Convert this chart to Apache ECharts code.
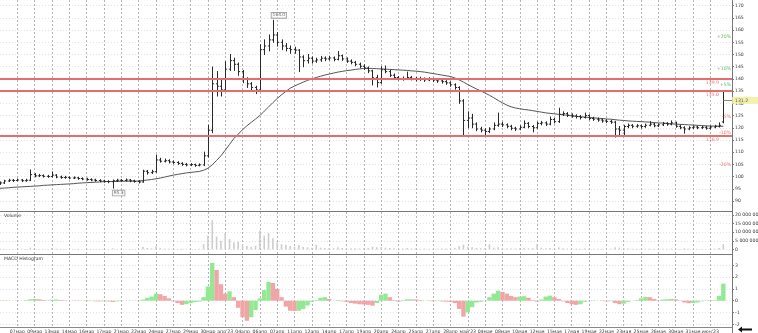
<!DOCTYPE html>
<html><head><meta charset="utf-8">
<script src="https://cdn.jsdelivr.net/npm/echarts@6/dist/echarts.min.js"></script>
<style>html,body{margin:0;padding:0;background:#fff}#c{width:758px;height:333px}</style>
</head><body><div id="c"></div>
<script>
// ---- data ----
const dateLabels = ['07мар','09мар','13мар','14мар','16мар','17мар','21мар','22мар','24мар','27мар','29мар','30мар',"апр'23",
 '04апр','06апр','07апр','11апр','12апр','14апр','17апр','19апр','20апр','24апр','25апр','27апр','28апр',"май'23",
 '04мая','08мая','10мая','12мая','15мая','17мая','19мая','22мая','23мая','25мая','26мая','30мая','31мая',"июн'23"];

// [open, high, low, close]
const bars = [
[97.0,97.8,96.8,97.4],[97.4,98.5,97.2,98.2],[98.2,98.9,98.0,98.5],[98.5,98.8,98.0,98.4],[98.4,99.0,98.2,98.6],
[98.6,98.8,98.0,98.3],[98.3,98.9,98.1,98.5],[98.5,102.7,98.4,100.8],[100.8,101.2,99.9,100.3],[100.3,100.9,100.0,100.4],
[100.4,100.7,99.8,100.1],[100.1,100.5,99.7,100.0],[100.0,101.9,99.8,100.6],[100.6,100.8,99.5,99.8],[99.8,100.2,99.3,99.6],
[99.6,100.1,99.3,99.7],[99.7,99.9,99.1,99.4],[99.4,99.9,99.2,99.5],[99.5,99.7,98.9,99.2],[99.2,99.5,98.7,99.0],
[99.0,99.3,98.5,98.8],[98.8,99.1,98.3,98.6],[98.6,98.9,98.1,98.4],[98.4,98.7,97.9,98.2],[98.2,98.5,97.7,98.0],
[98.0,98.3,97.5,97.9],[97.9,98.6,95.3,98.3],[98.3,98.9,98.0,98.5],[98.5,98.8,98.0,98.4],[98.4,99.0,98.2,98.6],
[98.6,98.8,97.9,98.3],[98.3,98.5,97.7,98.0],[98.0,98.3,97.4,97.8],[97.8,102.6,97.7,102.2],[102.2,102.5,101.0,101.6],
[101.6,102.6,101.3,102.0],[102.0,108.8,101.8,106.8],[106.8,107.5,105.9,106.3],[106.3,107.2,106.0,106.5],[106.5,106.9,105.6,106.0],
[106.0,106.4,105.4,105.8],[105.8,106.1,105.0,105.4],[105.4,105.7,104.6,105.0],[105.0,105.4,104.4,104.8],[104.8,105.3,104.5,104.9],
[104.9,105.1,104.2,104.6],[104.6,105.2,104.4,104.8],[104.8,110.0,104.5,108.5],[108.5,121.0,108.0,119.0],[119.0,144.9,118.0,138.0],
[138.0,143.0,133.0,137.0],[137.0,139.5,133.0,135.5],[135.5,147.0,135.0,144.0],[144.0,150.0,143.5,147.5],[147.5,148.5,143.5,146.0],
[146.0,146.5,141.5,143.0],[143.0,143.5,138.5,140.0],[140.0,140.5,136.5,138.0],[138.0,138.5,135.0,136.5],[136.5,137.0,134.0,135.5],
[135.5,154.0,135.0,152.0],[152.0,156.0,150.0,153.5],[153.5,158.0,151.5,156.0],[156.0,164.0,155.0,158.0],[158.0,159.0,153.5,155.0],
[155.0,156.0,152.0,153.5],[153.5,154.5,151.5,152.5],[152.5,153.5,150.5,152.0],[152.0,153.0,150.5,151.8],[151.8,152.0,143.0,149.0],
[149.0,149.5,145.0,147.5],[147.5,150.0,146.5,148.5],[148.5,149.0,146.5,147.3],[147.3,148.5,146.8,147.8],[147.8,149.2,147.2,148.5],
[148.5,149.0,147.5,148.2],[148.2,149.3,147.8,148.6],[148.6,149.0,147.4,148.0],[148.0,151.2,147.8,149.5],[149.5,149.8,147.6,148.2],
[148.2,148.6,146.8,147.3],[147.3,147.8,146.2,146.8],[146.8,147.2,145.4,146.0],[146.0,146.5,144.6,145.2],[145.2,145.8,143.9,144.5],
[144.5,144.9,142.6,143.3],[143.3,143.6,137.5,140.5],[140.5,141.5,136.7,138.5],[138.5,145.0,138.2,143.8],[143.8,145.3,142.5,143.0],
[143.0,143.5,141.0,141.5],[141.5,142.0,140.0,140.6],[140.6,141.0,139.6,140.2],[140.2,140.8,139.5,140.0],[140.0,142.8,139.8,140.6],
[140.6,141.0,139.6,140.2],[140.2,140.6,139.2,139.8],[139.8,140.7,139.4,140.0],[140.0,140.4,139.0,139.6],[139.6,140.5,139.3,139.8],
[139.8,140.2,138.9,139.5],[139.5,139.9,138.6,139.2],[139.2,139.6,138.3,138.9],[138.9,139.3,137.8,138.4],[138.4,138.8,137.0,137.6],
[137.6,138.0,135.8,136.5],[136.5,136.8,130.0,131.0],[131.0,131.5,117.0,123.0],[123.0,126.5,120.0,124.0],[124.0,125.5,120.0,121.5],
[121.5,122.0,118.8,119.5],[119.5,120.2,118.3,119.0],[119.0,119.6,117.0,118.5],[118.5,120.0,118.0,119.5],[119.5,122.0,119.2,121.0],
[121.0,126.0,120.6,121.5],[121.5,122.2,120.5,121.2],[121.2,121.6,120.0,120.6],[120.6,121.0,119.2,119.8],[119.8,120.2,118.9,119.5],
[119.5,120.8,119.2,120.2],[120.2,122.8,120.0,121.8],[121.8,122.1,120.0,120.5],[120.5,120.9,118.3,120.0],[120.0,122.3,119.8,121.8],
[121.8,122.6,121.2,122.0],[122.0,122.4,120.9,121.5],[121.5,124.4,121.2,123.4],[123.4,123.8,122.0,122.5],[122.5,128.0,122.2,125.5],
[125.5,126.5,125.0,125.8],[125.8,126.2,124.6,125.2],[125.2,125.7,124.3,124.8],[124.8,125.3,124.0,124.6],[124.6,125.0,123.6,124.2],
[124.2,126.0,124.0,125.0],[125.0,125.3,123.3,123.8],[123.8,124.3,123.0,123.5],[123.5,124.0,122.7,123.2],[123.2,123.6,122.3,122.8],
[122.8,123.3,122.1,122.6],[122.6,123.0,121.8,122.3],[122.3,122.6,116.2,119.5],[119.5,120.5,116.5,119.0],[119.0,121.0,117.0,120.5],
[120.5,121.5,120.0,121.0],[121.0,121.3,120.0,120.6],[120.6,121.3,120.2,120.8],[120.8,121.1,119.9,120.5],[120.5,121.5,120.2,121.0],
[121.0,122.5,120.8,121.5],[121.5,121.8,120.4,120.8],[120.8,121.6,120.5,121.2],[121.2,122.2,120.9,121.8],[121.8,122.1,121.0,121.5],
[121.5,122.8,121.2,122.0],[122.0,122.3,120.2,120.6],[120.6,121.0,119.6,120.0],[120.0,120.4,117.8,119.5],[119.5,120.4,119.2,120.0],
[120.0,120.7,119.7,120.3],[120.3,120.6,119.6,120.0],[120.0,120.6,119.7,120.2],[120.2,120.5,119.4,119.8],[119.8,120.7,119.5,120.3],
[120.3,121.0,120.0,120.6],[120.6,122.0,120.3,121.0],[122.4,135.0,122.0,131.2]
];

const maValues = [
95.2,95.3,95.4,95.6,95.7,95.8,95.9,96.0,96.1,96.2,96.4,96.5,96.6,96.7,96.8,96.9,97.0,97.1,97.3,97.4,
97.5,97.6,97.7,97.8,97.9,98.0,98.0,98.0,98.1,98.1,98.1,98.1,98.2,98.4,98.6,98.8,99.1,99.4,99.8,100.2,
100.6,100.9,101.2,101.5,101.7,101.9,102.1,102.6,103.4,104.8,106.6,108.5,110.8,113.2,115.6,117.4,119.2,120.8,122.2,123.6,
125.0,126.8,128.5,130.3,132.0,133.5,134.9,136.2,137.1,137.9,138.7,139.4,140.0,140.6,141.1,141.6,142.0,142.4,142.8,143.1,
143.4,143.6,143.9,144.1,144.3,144.3,144.3,144.2,144.1,144.0,143.9,143.8,143.7,143.6,143.5,143.3,143.2,143.0,142.8,142.5,
142.2,141.9,141.6,141.3,141.0,140.4,139.6,138.7,137.7,136.8,135.9,135.1,134.2,133.3,132.3,131.2,130.2,129.3,128.6,128.1,
127.8,127.5,127.3,127.0,126.7,126.4,126.1,125.9,125.7,125.5,125.3,125.1,124.9,124.7,124.5,124.4,124.2,124.1,123.9,123.8,
123.6,123.5,123.3,123.1,123.0,122.8,122.7,122.6,122.5,122.4,122.3,122.1,122.0,121.9,121.8,121.6,121.5,121.4,121.3,121.2,
121.1,121.0,120.9,120.8,120.7,120.7,120.6,120.6
];

// volume, millions
const volumeM = [
0.4,0.3,0.2,0.3,0.2,0.3,0.2,1.0,0.5,0.3,0.3,0.2,0.8,0.4,0.3,0.2,0.2,0.3,0.2,0.2,0.3,0.2,0.2,0.3,0.2,0.3,0.6,0.3,0.2,0.2,0.3,0.2,0.2,
1.6,0.8,0.6,1.9,0.9,0.5,0.4,0.4,0.3,0.4,0.3,0.3,0.3,0.4,
3.0,8.0,17.0,7.5,5.0,9.5,6.0,4.0,4.5,3.0,2.0,1.5,2.0,
11.0,8.0,9.5,6.5,4.0,3.0,2.5,2.0,1.5,2.5,1.5,1.2,1.0,
2.5,1.0,0.8,0.8,0.7,1.2,0.8,0.7,0.6,0.7,0.6,0.7,0.8,1.5,1.2,1.4,1.0,0.8,0.6,0.5,0.5,0.8,0.5,0.5,0.4,0.5,0.4,0.4,0.4,0.5,0.5,0.7,0.9,
1.8,2.8,1.5,1.2,0.8,0.7,0.8,3.0,1.0,1.2,0.7,0.6,0.5,0.5,0.6,0.8,0.6,0.7,3.0,1.0,
0.6,0.8,0.5,1.2,0.7,0.5,0.5,0.4,0.4,0.6,0.4,0.4,0.3,0.4,0.3,0.4,1.2,0.9,0.7,0.5,0.4,0.4,0.3,0.4,0.5,0.4,0.3,0.4,0.4,0.5,0.4,0.3,0.6,0.4,0.3,0.3,0.3,0.3,0.3,0.4,0.8,3.0
];

const macdHist = [
0.02,0.03,0.02,0.0,-0.02,0.0,0.05,
0.12,0.15,0.12,0.07,0.03,0.08,0.1,0.06,0.03,0.0,
-0.02,-0.03,-0.02,-0.04,-0.03,-0.05,-0.06,-0.05,-0.06,-0.1,-0.06,-0.03,0.0,0.02,0.0,-0.03,
0.1,0.25,0.35,0.6,0.55,0.4,0.2,-0.05,-0.2,-0.35,-0.3,-0.2,-0.12,-0.08,
0.3,1.2,3.2,2.6,1.4,0.6,0.8,0.3,-0.6,-1.4,-1.7,-1.4,-0.8,
0.2,0.9,1.6,1.5,1.0,0.3,-0.5,-0.85,-0.87,-0.85,-0.7,-0.4,-0.1,
0.05,0.25,0.3,0.15,0.0,0.05,-0.05,-0.1,-0.2,-0.25,-0.3,-0.32,-0.35,-0.42,-0.2,
0.5,0.6,0.3,0.05,-0.08,0.05,0.12,0.12,0.1,0.05,0.0,-0.03,-0.05,-0.04,-0.06,-0.08,-0.1,-0.2,
-0.7,-1.35,-1.0,-0.55,-0.15,-0.1,0.0,0.3,0.6,0.85,0.75,0.6,0.4,0.3,0.35,0.38,0.25,0.05,-0.08,0.1,
0.35,0.43,0.3,0.15,-0.05,-0.2,-0.3,-0.35,-0.3,-0.1,0.0,0.03,0.0,-0.03,-0.05,-0.05,-0.2,-0.3,-0.25,-0.1,
0.0,0.05,0.2,0.33,0.3,0.15,0.03,0.1,0.12,0.15,0.12,0.02,-0.15,-0.22,-0.2,-0.15,-0.05,0.03,0.05,0.05,0.4,1.45
];

const levelLines = [139.9, 135.0, 116.9];
const pctLevels = [20, 10, 5, -5, -10, -20];
const lastPrice = 131.2;
const extremes = [{i: 63, v: 164.0, pos: 'top'}, {i: 26, v: 95.3, pos: 'bottom'}];

// ---- layout helpers ----
const N = 170, FIRST = 4, STEP = 4;
const cats = []; const labelAt = {};
for (let i = 0; i < N; i++) cats.push('c' + i);
dateLabels.forEach((d, k) => { labelAt[FIRST + STEP * k] = d; });
const isLab = (idx) => labelAt[idx] !== undefined;
const FONT = 'DejaVu Sans';
const TXT = '#3a3a3a';

const fmtVol = v => String(Math.round(v * 1e6)).replace(/\B(?=(\d{3})+(?!\d))/g, ' ');

const hiddenX = (gi) => ({
  type: 'category', gridIndex: gi, data: cats, boundaryGap: false,
  axisLine: {show: false}, axisTick: {show: false}, axisLabel: {show: false}, splitLine: {show: false}
});
const yBase = {
  position: 'right',
  axisLine: {show: true, lineStyle: {color: '#777'}},
  axisTick: {show: true, length: 2, lineStyle: {color: '#777'}},
  axisLabel: {fontSize: 4.6, color: TXT, margin: 3, fontFamily: FONT, showMinLabel: false, showMaxLabel: false},
  splitLine: {show: true, showMinLine: false, showMaxLine: false, lineStyle: {color: '#e2e2e2', type: [1, 2]}}
};
const G = {left: 0, right: 26, outerBoundsMode: 'none', containLabel: false};

const chart = echarts.init(document.getElementById('c'), null, {renderer: 'canvas'});
chart.setOption({
  animation: false,
  backgroundColor: '#fff',
  grid: [
    Object.assign({}, G, {top: -6.5, height: 219.7}),
    Object.assign({}, G, {top: 206.4, height: 51.6}),
    Object.assign({}, G, {top: 253.5, height: 82.6}),
    Object.assign({}, G, {top: 0, height: 327})
  ],
  xAxis: [
    hiddenX(0), hiddenX(1), hiddenX(2),
    {
      type: 'category', gridIndex: 3, data: cats, boundaryGap: false,
      axisLine: {show: true, lineStyle: {color: '#888'}},
      axisTick: {show: false},
      axisLabel: {interval: (idx) => isLab(idx), formatter: (v, idx) => labelAt[idx] || '',
        fontSize: 4.6, color: TXT, margin: 2, fontFamily: FONT},
      splitLine: {show: true, interval: (idx) => isLab(idx), lineStyle: {color: '#b4b4b4', type: [2, 2], width: 1}}
    }
  ],
  yAxis: [
    Object.assign({}, yBase, {type: 'value', gridIndex: 0, min: 85, max: 175, interval: 5}),
    Object.assign({}, yBase, {type: 'value', gridIndex: 1, min: -5, max: 25, interval: 5,
      axisLabel: Object.assign({}, yBase.axisLabel, {formatter: fmtVol})}),
    Object.assign({}, yBase, {type: 'value', gridIndex: 2, min: -3, max: 4, interval: 1}),
    {type: 'value', gridIndex: 3, min: 0, max: 1, show: false, splitLine: {show: false}}
  ],
  series: [
    {
      name: 'levels', type: 'line', xAxisIndex: 0, yAxisIndex: 0, data: [], z: 1,
      markLine: {
        silent: true, symbol: 'none', label: {show: false}, animation: false,
        data: levelLines.map(v => ({yAxis: v, lineStyle: {color: '#e46d6d', width: 2, type: 'solid'}}))
          .concat([[{coord: [bars.length - 1, lastPrice], lineStyle: {color: '#888', width: 1, type: 'solid'}},
                    {coord: [N - 1, lastPrice]}]])
      }
    },
    {
      name: 'MA', type: 'line', xAxisIndex: 0, yAxisIndex: 0, data: maValues,
      showSymbol: false, symbol: 'none', lineStyle: {color: '#555', width: 1}, z: 2
    },
    {
      name: 'OHLC', type: 'custom', xAxisIndex: 0, yAxisIndex: 0, z: 3,
      data: bars.map((b, i) => [i, b[0], b[1], b[2], b[3]]),
      encode: {x: 0, y: [1, 2, 3, 4]},
      renderItem: function (params, api) {
        const i = api.value(0);
        const po = api.coord([i, api.value(1)]);
        const yh = api.coord([i, api.value(2)])[1];
        const yl = api.coord([i, api.value(3)])[1];
        const yc = api.coord([i, api.value(4)])[1];
        const x = Math.round(po[0]) + 0.5;
        const t = 1.6;
        const st = {stroke: '#2a2a2a', lineWidth: 1};
        return {type: 'group', children: [
          {type: 'line', shape: {x1: x, y1: yh - 0.5, x2: x, y2: yl + 0.5}, style: st},
          {type: 'line', shape: {x1: x - t, y1: po[1], x2: x, y2: po[1]}, style: st},
          {type: 'line', shape: {x1: x, y1: yc, x2: x + t, y2: yc}, style: st}
        ]};
      }
    },
    {
      name: 'levelLabels', type: 'scatter', xAxisIndex: 0, yAxisIndex: 0, symbolSize: 0, z: 4,
      data: levelLines.map(v => [N - 4, v]),
      label: {show: true, position: 'left', distance: 0, offset: [0, 4], fontSize: 4.6, fontFamily: FONT,
        color: '#e05555', formatter: p => p.value[1].toFixed(1)}
    },
    {
      name: 'pct', type: 'scatter', xAxisIndex: 0, yAxisIndex: 0, symbolSize: 0, z: 4,
      data: pctLevels.map(p => ({value: [N - 1, lastPrice * (1 + p / 100)], pct: p,
        label: {color: p > 0 ? '#3aa83a' : '#e05555'}})),
      label: {show: true, position: 'left', distance: 1, fontSize: 4.6, fontFamily: FONT,
        formatter: p => (p.data.pct > 0 ? '+' : '') + p.data.pct + '%'}
    },
    {
      name: 'last', type: 'scatter', xAxisIndex: 0, yAxisIndex: 0, symbolSize: 0, z: 6,
      data: [[N - 1, lastPrice]],
      label: {show: true, position: 'right', distance: 0, fontSize: 4.6, fontFamily: FONT, color: '#333',
        backgroundColor: '#f0ef98', padding: [1, 10, 1, 3], formatter: () => lastPrice.toFixed(1)}
    },
    {
      name: 'extremes', type: 'scatter', xAxisIndex: 0, yAxisIndex: 0, symbolSize: 0, z: 6,
      data: extremes.map(e => ({value: [e.i, e.v], label: {position: e.pos}})),
      label: {show: true, distance: 2.5, offset: [6, 0], fontSize: 4.4, fontFamily: FONT, color: '#333',
        backgroundColor: '#fff', borderColor: '#888', borderWidth: 0.8, padding: [0.5, 1],
        formatter: p => p.value[1].toFixed(1)}
    },
    {
      name: 'Volume', type: 'bar', xAxisIndex: 1, yAxisIndex: 1, data: volumeM,
      barWidth: 1.6, itemStyle: {color: '#cdcdcd'}
    },
    {
      name: 'MACD', type: 'bar', xAxisIndex: 2, yAxisIndex: 2, barWidth: 4.4,
      data: macdHist.map((v, i) => ({value: v, itemStyle: {
        color: (i === 0 || v >= macdHist[i - 1]) ? '#93e893' : '#f0a6a6'}}))
    }
  ],
  graphic: [
    {type: 'line', shape: {x1: 0, y1: 211.5, x2: 732, y2: 211.5}, style: {stroke: '#777', lineWidth: 1}, z: 10},
    {type: 'line', shape: {x1: 0, y1: 254.5, x2: 732, y2: 254.5}, style: {stroke: '#777', lineWidth: 1}, z: 10},
    {type: 'text', left: 4, top: 213, style: {text: 'Volume', fontSize: 4.6, fontFamily: FONT, fill: '#333'}, z: 10},
    {type: 'text', left: 4, top: 256, style: {text: 'MACD Histogram', fontSize: 4.6, fontFamily: FONT, fill: '#333'}, z: 10},
    {type: 'polygon', shape: {points: [[738, 329.5], [742, 326.5], [742, 328.5], [752, 328.5], [752, 330.5], [742, 330.5], [742, 332.5]]},
      style: {fill: '#111'}, z: 10}
  ]
});
</script>
</body></html>
